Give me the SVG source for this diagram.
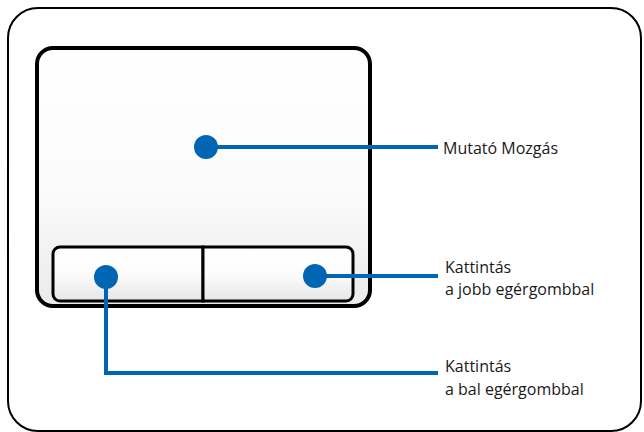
<svg xmlns="http://www.w3.org/2000/svg" width="644" height="432" viewBox="0 0 644 432">
<defs>
<linearGradient id="padG" x1="0" y1="0" x2="0" y2="1">
<stop offset="0" stop-color="#ffffff"/>
<stop offset="0.55" stop-color="#fbfbfb"/>
<stop offset="1" stop-color="#eaeaea"/>
</linearGradient>
<linearGradient id="btnG" x1="0" y1="0" x2="0" y2="1">
<stop offset="0" stop-color="#ffffff"/>
<stop offset="0.5" stop-color="#fcfcfc"/>
<stop offset="1" stop-color="#e6e6e6"/>
</linearGradient>
<style>
.lbl{font-family:"Open Sans","Noto Sans","Liberation Sans",sans-serif;font-size:16px;fill:#1a1a1a}
.wire{fill:none;stroke:#0066b3;stroke-width:4}
.dot{fill:#0066b3}
</style>
</defs>
<rect width="644" height="432" fill="#ffffff"/>
<g id="frame">
<rect x="8" y="8" width="633" height="423" rx="30" ry="30" fill="none" stroke="#000" stroke-width="2"/>
</g>
<g id="touchpad">
<rect x="37" y="48" width="333" height="258" rx="16" ry="16" fill="url(#padG)" stroke="#000" stroke-width="4"/>
</g>
<g id="left-button">
<path d="M60,247 H203 V301 H60 A7,7 0 0 1 53,294 V254 A7,7 0 0 1 60,247 Z" fill="url(#btnG)" stroke="#000" stroke-width="3"/>
</g>
<g id="right-button">
<path d="M203,247 H346 A7,7 0 0 1 353,254 V294 A7,7 0 0 1 346,301 H203 Z" fill="url(#btnG)" stroke="#000" stroke-width="3"/>
</g>
<g id="connectors">
<polyline class="wire" points="206,147 438,147"/>
<polyline class="wire" points="315,276 438,276"/>
<polyline class="wire" points="106,277 106,373 438,373"/>
<circle class="dot" cx="206" cy="147" r="12"/>
<circle class="dot" cx="315" cy="276" r="12"/>
<circle class="dot" cx="106" cy="277" r="12"/>
</g>
<g id="label-move">
<text class="lbl" x="443" y="154">Mutató Mozgás</text>
</g>
<g id="label-right">
<text class="lbl" x="445" y="273">Kattintás</text>
<text class="lbl" x="445" y="295">a jobb egérgombbal</text>
</g>
<g id="label-left">
<text class="lbl" x="445" y="372">Kattintás</text>
<text class="lbl" x="445" y="395">a bal egérgombbal</text>
</g>
</svg>
